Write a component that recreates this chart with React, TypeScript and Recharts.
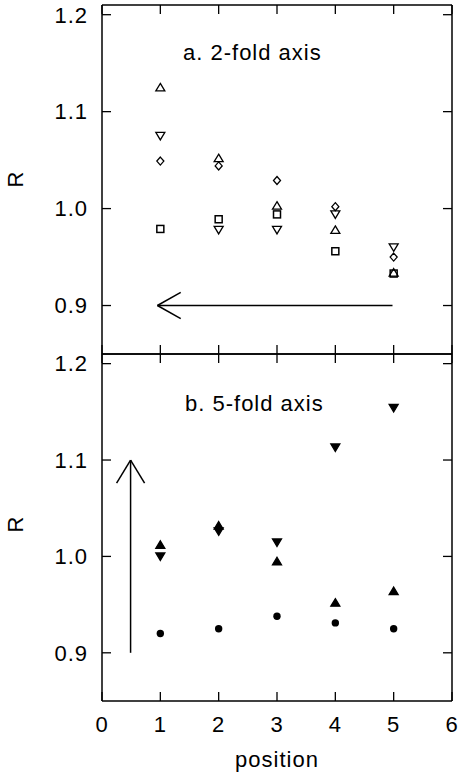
import React from 'react'
import { ScatterChart, Scatter, XAxis, YAxis, ReferenceLine } from 'recharts'

// positions along the axis
const positions = [1, 2, 3, 4, 5]

// a. 2-fold axis (open symbols)
const twoFoldUp = [1.125, 1.052, 1.003, 0.978, 0.934]
const twoFoldDown = [1.075, 0.978, 0.978, 0.994, 0.96]
const twoFoldDiamond = [1.049, 1.044, 1.029, 1.002, 0.95]
const twoFoldSquare = [0.979, 0.989, 0.994, 0.956, 0.933]

// b. 5-fold axis (filled symbols)
const fiveFoldUp = [1.012, 1.032, 0.995, 0.952, 0.964]
const fiveFoldDown = [1.0, 1.026, 1.0145, 1.113, 1.154]
const fiveFoldCircle = [0.92, 0.925, 0.938, 0.931, 0.925]

const xTicks = [0, 1, 2, 3, 4, 5, 6]
const yTicks = [0.9, 1.0, 1.1, 1.2]

// arrows: [x, y] pairs
const arrowA = { tail: [4.98, 0.9], tip: [0.95, 0.9], wing1: [1.35, 0.9135], wing2: [1.35, 0.8865] }
const arrowB = { tail: [0.49, 0.9], tip: [0.49, 1.1], wing1: [0.25, 1.076], wing2: [0.73, 1.076] }

const toPoints = (ys: number[]) => positions.map((x, i) => ({ x, y: ys[i] }))

const INK = '#000'
const FONT = '"Liberation Sans", Arial, Helvetica, sans-serif'
const X_DOMAIN: [number, number] = [0, 6]
const Y_DOMAIN: [number, number] = [0.85, 1.21]

const TriUp = (filled: boolean) => (p: any) => (
  <path
    d={`M${p.cx},${p.cy - 4} L${p.cx + 4.5},${p.cy + 3.5} L${p.cx - 4.5},${p.cy + 3.5} Z`}
    fill={filled ? INK : 'none'}
    stroke={INK}
    strokeWidth={1.3}
  />
)
const TriDown = (filled: boolean) => (p: any) => (
  <path
    d={`M${p.cx},${p.cy + 4} L${p.cx + 4.5},${p.cy - 3.5} L${p.cx - 4.5},${p.cy - 3.5} Z`}
    fill={filled ? INK : 'none'}
    stroke={INK}
    strokeWidth={1.3}
  />
)
const Diamond = (p: any) => (
  <path
    d={`M${p.cx},${p.cy - 4} L${p.cx + 3.5},${p.cy} L${p.cx},${p.cy + 4} L${p.cx - 3.5},${p.cy} Z`}
    fill="none"
    stroke={INK}
    strokeWidth={1.3}
  />
)
const Square = (p: any) => (
  <rect x={p.cx - 3.5} y={p.cy - 3.5} width={7} height={7} fill="none" stroke={INK} strokeWidth={1.5} />
)
const Dot = (p: any) => <circle cx={p.cx} cy={p.cy} r={3.7} fill={INK} />

const labelStyle = { fill: INK, fontSize: 22 }
const hiddenLabel = { fill: 'none' }
const blank = () => ''
const axisLine = { stroke: INK, strokeWidth: 1.5 }
const tickLine = { stroke: INK, strokeWidth: 1.3 }

function arrowLines(a: typeof arrowA, key: string) {
  const seg = (p: number[], q: number[]) => [
    { x: p[0], y: p[1] },
    { x: q[0], y: q[1] },
  ]
  return [
    <ReferenceLine key={key + 's'} segment={seg(a.tail, a.tip)} stroke={INK} strokeWidth={1.5} />,
    <ReferenceLine key={key + 'w1'} segment={seg(a.tip, a.wing1)} stroke={INK} strokeWidth={1.5} />,
    <ReferenceLine key={key + 'w2'} segment={seg(a.tip, a.wing2)} stroke={INK} strokeWidth={1.5} />,
  ]
}

// mirrored copies with the same domain only draw inward ticks (and the box sides)
const mirrorX = (id: string, orientation: 'top' | 'bottom', line: boolean) => (
  <XAxis
    key={id}
    xAxisId={id}
    orientation={orientation}
    mirror
    dataKey="x"
    type="number"
    domain={X_DOMAIN}
    ticks={xTicks}
    interval={0}
    height={1}
    tickSize={9}
    tick={hiddenLabel}
    tickFormatter={blank}
    axisLine={line ? axisLine : false}
    tickLine={tickLine}
  />
)
const mirrorY = (id: string, orientation: 'left' | 'right', line: boolean) => (
  <YAxis
    key={id}
    yAxisId={id}
    orientation={orientation}
    mirror
    dataKey="y"
    type="number"
    domain={Y_DOMAIN}
    ticks={yTicks}
    interval={0}
    width={1}
    tickSize={9}
    tick={hiddenLabel}
    tickFormatter={blank}
    axisLine={line ? axisLine : false}
    tickLine={tickLine}
  />
)

const leftAxis = (
  <YAxis
    yAxisId="main"
    dataKey="y"
    type="number"
    domain={Y_DOMAIN}
    ticks={yTicks}
    interval={0}
    width={102}
    tickSize={0}
    tickMargin={14}
    tick={labelStyle}
    tickFormatter={(v: number) => v.toFixed(1)}
    axisLine={axisLine}
    tickLine={false}
  />
)

export default function App() {
  return (
    <div
      style={{
        position: 'absolute',
        left: 0,
        top: 0,
        width: 459,
        height: 779,
        background: '#fff',
        fontFamily: FONT,
        letterSpacing: 1,
      }}
    >
      <div style={{ position: 'absolute', left: 0, top: 0 }}>
        <ScatterChart width={459} height={356} margin={{ top: 5, right: 7, bottom: 2, left: 0 }}>
          {mirrorX('main', 'bottom', true)}
          {mirrorX('top', 'top', true)}
          {leftAxis}
          {mirrorY('leftIn', 'left', false)}
          {mirrorY('right', 'right', true)}
          <Scatter data={toPoints(twoFoldUp)} xAxisId="main" yAxisId="main" shape={TriUp(false)} isAnimationActive={false} />
          <Scatter data={toPoints(twoFoldDown)} xAxisId="top" yAxisId="leftIn" shape={TriDown(false)} isAnimationActive={false} />
          <Scatter data={toPoints(twoFoldDiamond)} xAxisId="main" yAxisId="right" shape={Diamond} isAnimationActive={false} />
          <Scatter data={toPoints(twoFoldSquare)} xAxisId="main" yAxisId="main" shape={Square} isAnimationActive={false} />
          {arrowLines(arrowA, 'a').map((el) => React.cloneElement(el, { xAxisId: 'main', yAxisId: 'main' }))}
          <text x={183} y={60} fontSize={22} fill={INK}>
            a. 2-fold axis
          </text>
          <text x={15} y={179} fontSize={22} fill={INK} textAnchor="middle" dominantBaseline="central" transform="rotate(-90 15 179)">
            R
          </text>
        </ScatterChart>
      </div>
      <div style={{ position: 'absolute', left: 0, top: 352 }}>
        <ScatterChart width={459} height={427} margin={{ top: 2, right: 7, bottom: 0, left: 0 }}>
          <XAxis
            xAxisId="main"
            dataKey="x"
            type="number"
            domain={X_DOMAIN}
            ticks={xTicks}
            interval={0}
            height={78}
            tickSize={0}
            tickMargin={15}
            tick={labelStyle}
            axisLine={axisLine}
            tickLine={false}
            label={{ value: 'position', position: 'insideBottom', offset: 12, fill: INK, fontSize: 22 }}
          />
          {mirrorX('bottomIn', 'bottom', false)}
          {mirrorX('top', 'top', true)}
          {leftAxis}
          {mirrorY('leftIn', 'left', false)}
          {mirrorY('right', 'right', true)}
          <Scatter data={toPoints(fiveFoldUp)} xAxisId="main" yAxisId="main" shape={TriUp(true)} isAnimationActive={false} />
          <Scatter data={toPoints(fiveFoldDown)} xAxisId="bottomIn" yAxisId="leftIn" shape={TriDown(true)} isAnimationActive={false} />
          <Scatter data={toPoints(fiveFoldCircle)} xAxisId="top" yAxisId="right" shape={Dot} isAnimationActive={false} />
          {arrowLines(arrowB, 'b').map((el) => React.cloneElement(el, { xAxisId: 'main', yAxisId: 'main' }))}
          <text x={185} y={59} fontSize={22} fill={INK}>
            b. 5-fold axis
          </text>
          <text x={15} y={172} fontSize={22} fill={INK} textAnchor="middle" dominantBaseline="central" transform="rotate(-90 15 172)">
            R
          </text>
        </ScatterChart>
      </div>
    </div>
  )
}
